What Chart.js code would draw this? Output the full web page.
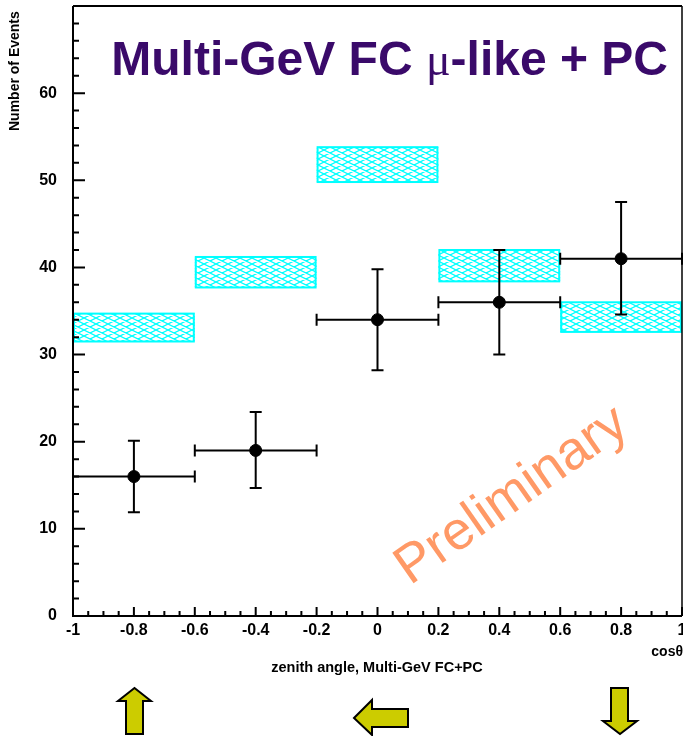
<!DOCTYPE html>
<html>
<head>
<meta charset="utf-8">
<script src="https://cdn.jsdelivr.net/npm/chart.js@4.4.1/dist/chart.umd.min.js"></script>
<style>
  html, body { margin: 0; padding: 0; background: #fff; overflow: hidden; }
  #wrap { width: 683px; height: 736px; }
</style>
</head>
<body>
<div id="wrap"><canvas id="zenithChart" width="683" height="736"></canvas></div>
<script>
// bins in cos(theta)
const binEdges = [-1, -0.6, -0.2, 0.2, 0.6, 1];
const binCenters = [-0.8, -0.4, 0, 0.4, 0.8];

// data points with errors
const dataEvents = [16, 19, 34, 36, 41];
const dataErrLow = [11.9, 14.7, 28.2, 30.0, 34.6];
const dataErrHigh = [20.1, 23.4, 39.8, 42.0, 47.5];

// MC expectation bands (no oscillation)
const mcLow = [31.5, 37.7, 49.8, 38.4, 32.6];
const mcHigh = [34.7, 41.2, 53.8, 42.0, 36.0];

// axis ticks
const xTickValues = [-1, -0.8, -0.6, -0.4, -0.2, 0, 0.2, 0.4, 0.6, 0.8, 1];
const xTickLabels = ['-1', '-0.8', '-0.6', '-0.4', '-0.2', '0', '0.2', '0.4', '0.6', '0.8', '1'];
const yTickValues = [0, 10, 20, 30, 40, 50, 60];
const yTickLabels = ['0', '10', '20', '30', '40', '50', '60'];

const BOLD = "bold 16px 'Liberation Sans', Arial, sans-serif";

function makeHatch(ctx) {
  const c = document.createElement('canvas');
  c.width = 12; c.height = 6;
  const g = c.getContext('2d');
  g.fillStyle = '#fff';
  g.fillRect(0, 0, 12, 6);
  g.strokeStyle = '#00ffff';
  g.lineWidth = 1.2;
  g.beginPath();
  g.moveTo(-12, 0); g.lineTo(24, 18);
  g.moveTo(-12, -6); g.lineTo(24, 12);
  g.moveTo(-12, 6); g.lineTo(24, -12);
  g.moveTo(-12, 12); g.lineTo(24, -6);
  g.stroke();
  return ctx.createPattern(c, 'repeat');
}

const bandsPlugin = {
  id: 'bands',
  beforeDatasetsDraw(chart) {
    const ctx = chart.ctx, x = chart.scales.x, y = chart.scales.y;
    const pat = makeHatch(ctx);
    ctx.save();
    for (let i = 0; i < mcLow.length; i++) {
      const x0 = x.getPixelForValue(binEdges[i]);
      const x1 = x.getPixelForValue(binEdges[i + 1]);
      const y0 = y.getPixelForValue(mcHigh[i]);
      const y1 = y.getPixelForValue(mcLow[i]);
      ctx.fillStyle = pat;
      ctx.fillRect(x0, y0, x1 - x0, y1 - y0);
      ctx.strokeStyle = '#00ffff';
      ctx.lineWidth = 2;
      ctx.strokeRect(x0 + 1, y0, x1 - x0 - 2, y1 - y0);
    }
    // error bars
    ctx.strokeStyle = '#000';
    ctx.lineWidth = 2;
    for (let i = 0; i < dataEvents.length; i++) {
      const xc = x.getPixelForValue(binCenters[i]);
      const xl = x.getPixelForValue(binEdges[i]);
      const xr = x.getPixelForValue(binEdges[i + 1]);
      const yc = y.getPixelForValue(dataEvents[i]);
      const yt = y.getPixelForValue(dataErrHigh[i]);
      const yb = y.getPixelForValue(dataErrLow[i]);
      ctx.beginPath();
      ctx.moveTo(xl, yc); ctx.lineTo(xr, yc);
      ctx.moveTo(xl, yc - 6); ctx.lineTo(xl, yc + 6);
      ctx.moveTo(xr, yc - 6); ctx.lineTo(xr, yc + 6);
      ctx.moveTo(xc, yt); ctx.lineTo(xc, yb);
      ctx.moveTo(xc - 6, yt); ctx.lineTo(xc + 6, yt);
      ctx.moveTo(xc - 6, yb); ctx.lineTo(xc + 6, yb);
      ctx.stroke();
    }
    ctx.restore();
  }
};

function arrow(ctx, pts) {
  ctx.beginPath();
  ctx.moveTo(pts[0][0], pts[0][1]);
  for (let i = 1; i < pts.length; i++) ctx.lineTo(pts[i][0], pts[i][1]);
  ctx.closePath();
  ctx.fillStyle = '#cccc00';
  ctx.fill();
  ctx.strokeStyle = '#000';
  ctx.lineWidth = 2;
  ctx.lineJoin = 'miter';
  ctx.stroke();
}

const framePlugin = {
  id: 'frame',
  afterDraw(chart) {
    const ctx = chart.ctx, x = chart.scales.x, y = chart.scales.y;
    const a = chart.chartArea;
    ctx.save();
    ctx.strokeStyle = '#000';
    ctx.lineWidth = 2;
    ctx.beginPath();
    ctx.moveTo(a.left, a.top); ctx.lineTo(a.left, a.bottom); ctx.lineTo(a.right, a.bottom);
    ctx.moveTo(a.left, a.top); ctx.lineTo(a.right, a.top);
    ctx.stroke();
    ctx.lineWidth = 1.5;
    ctx.beginPath();
    ctx.moveTo(a.right, a.top); ctx.lineTo(a.right, a.bottom);
    ctx.stroke();

    // ticks
    ctx.lineWidth = 2;
    ctx.beginPath();
    for (let v = 0; v <= 68; v += 2) {
      const py = y.getPixelForValue(v);
      const len = v % 10 === 0 ? 12 : 6;
      ctx.moveTo(a.left, py); ctx.lineTo(a.left + len, py);
    }
    for (let k = -20; k <= 20; k++) {
      const px = x.getPixelForValue(k * 0.05);
      const len = k % 4 === 0 ? 9 : 5;
      ctx.moveTo(px, a.bottom); ctx.lineTo(px, a.bottom - len);
    }
    ctx.stroke();

    // tick labels
    ctx.fillStyle = '#000';
    ctx.font = BOLD;
    ctx.textAlign = 'center';
    ctx.textBaseline = 'middle';
    xTickValues.forEach((v, i) => {
      ctx.fillText(xTickLabels[i], x.getPixelForValue(v), a.bottom + 15);
    });
    ctx.textAlign = 'right';
    yTickValues.forEach((v, i) => {
      ctx.fillText(yTickLabels[i], a.left - 16, y.getPixelForValue(v));
    });

    // axis titles
    ctx.font = "bold 14px 'Liberation Sans', Arial, sans-serif";
    ctx.textAlign = 'right';
    ctx.fillText('cos\u03B8', 683, 652);
    ctx.font = "bold 14.5px 'Liberation Sans', Arial, sans-serif";
    ctx.textAlign = 'center';
    ctx.fillText('zenith angle, Multi-GeV FC+PC', 377, 668);
    ctx.save();
    ctx.translate(15, 131);
    ctx.rotate(-Math.PI / 2);
    ctx.textAlign = 'left';
    ctx.font = "bold 14px 'Liberation Sans', Arial, sans-serif";
    ctx.fillText('Number of Events', 0, 0);
    ctx.restore();

    // big title
    ctx.fillStyle = '#3a0a6a';
    ctx.textBaseline = 'alphabetic';
    ctx.textAlign = 'left';
    const parts = [
      ["Multi-GeV FC ", "bold 48px 'Liberation Sans', Arial, sans-serif"],
      ["\u03BC", "46px 'Liberation Serif', serif"],
      ["-like + PC", "bold 48px 'Liberation Sans', Arial, sans-serif"]
    ];
    let tw = 0;
    parts.forEach(p => { ctx.font = p[1]; tw += ctx.measureText(p[0]).width; });
    let tx = 668 - tw;
    parts.forEach(p => { ctx.font = p[1]; ctx.fillText(p[0], tx, 75); tx += ctx.measureText(p[0]).width; });

    // Preliminary watermark
    ctx.save();
    ctx.translate(512, 496);
    ctx.rotate(-35 * Math.PI / 180);
    ctx.fillStyle = '#ff9966';
    ctx.font = "54px 'Liberation Sans', Arial, sans-serif";
    ctx.textAlign = 'center';
    ctx.textBaseline = 'middle';
    ctx.fillText('Preliminary', 0, 0);
    ctx.restore();

    // arrows
    arrow(ctx, [[134.5, 688], [151, 701], [143, 701], [143, 734], [126, 734], [126, 701], [118, 701]]);
    arrow(ctx, [[354, 718], [372, 700], [372, 709], [408, 709], [408, 727], [372, 727], [372, 735]]);
    arrow(ctx, [[611, 688], [628, 688], [628, 721], [637, 721], [620, 734], [603, 721], [611, 721]]);
    ctx.restore();
  }
};

new Chart(document.getElementById('zenithChart'), {
  type: 'scatter',
  data: {
    datasets: [{
      label: 'data',
      data: binCenters.map((c, i) => ({ x: c, y: dataEvents[i] })),
      backgroundColor: '#000',
      borderColor: '#000',
      pointRadius: 6,
      pointHoverRadius: 6
    }]
  },
  options: {
    responsive: false,
    animation: false,
    layout: { autoPadding: false, padding: { left: 73, top: 6, right: 1, bottom: 120 } },
    scales: {
      x: { type: 'linear', min: -1, max: 1, display: false },
      y: { type: 'linear', min: 0, max: 70, display: false }
    },
    plugins: {
      legend: { display: false },
      tooltip: { enabled: false }
    }
  },
  plugins: [bandsPlugin, framePlugin]
});
</script>
</body>
</html>
